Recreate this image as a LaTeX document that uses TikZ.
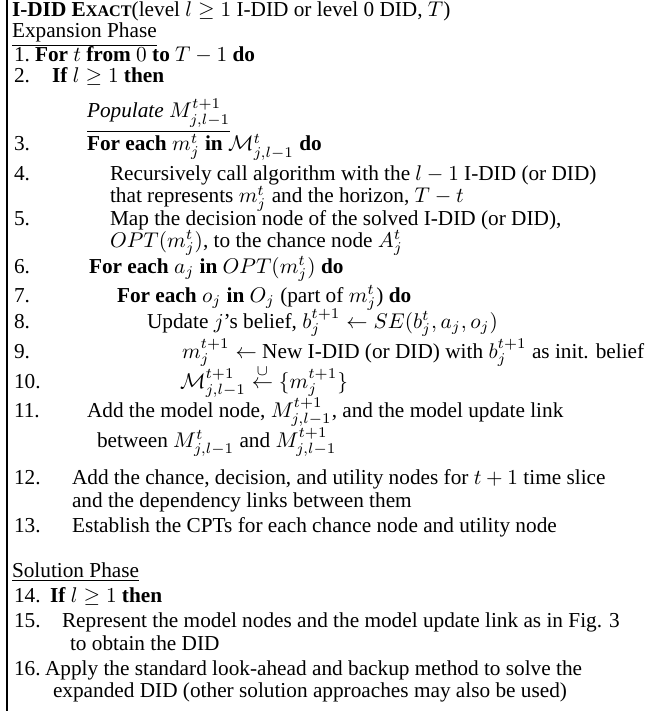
\documentclass[tikz,border=0pt]{standalone}
\usepackage[no-math]{fontspec}
\setmainfont{Liberation Serif}
\newcommand{\kw}[1]{\textbf{#1}}
\newcommand{\algsc}{\textbf{E{\fontsize{7.6}{9}\selectfont XACT}}}
\begin{document}
\begin{tikzpicture}[x=0.47pt,y=-0.47pt,
  ln/.style={anchor=base west, inner sep=0pt, outer sep=0pt, font=\fontsize{10}{12}\selectfont},
  num/.style={ln},
  rule/.style={line width=0.5pt}]
\useasboundingbox (0,0) rectangle (645,711);
\clip (0,0) rectangle (645,711);
% left frame rule
\draw[rule] (7,0) -- (7,711);
% heading
\node[ln] (title) at (12,17) {\kw{I-DID} \algsc(level $l \geq 1$ I-DID or level 0 DID, $T$)};
\node[ln] (exp) at (12,38) {\underline{Expansion Phase}};
% expansion phase
\node[num] (n1) at (14,62) {1.};
\node[ln] (t1) at (35,62) {\kw{For} $t$ \kw{from} $0$ \kw{to} $T-1$ \kw{do}};
\node[num] (n2) at (14,83) {2.};
\node[ln] (t2) at (52,83) {\kw{If} $l \geq 1$ \kw{then}};
\node[ln] (pop) at (87,118) {\textit{Populate} $M^{t+1}_{j,l-1}$};
\draw[rule] ([yshift=-1.8pt]pop.south west) -- ([yshift=-1.8pt]pop.south east);
\node[num] (n3) at (14,151) {3.};
\node[ln] (t3) at (87,151) {\kw{For each} $m_j^t$ \kw{in} $\mathcal{M}^t_{j,l-1}$ \kw{do}};
\node[num] (n4) at (14,181) {4.};
\node[ln] (t4) at (110,181) {Recursively call algorithm with the $l-1$ I-DID (or DID)};
\node[ln] (t4b) at (110,203) {that represents $m_j^t$ and the horizon, $T-t$};
\node[num] (n5) at (14,225) {5.};
\node[ln] (t5) at (110,225) {Map the decision node of the solved I-DID (or DID),};
\node[ln] (t5b) at (110,247) {$OPT(m_j^t)$, to the chance node $A_j^t$};
\node[num] (n6) at (14,273) {6.};
\node[ln] (t6) at (89,273) {\kw{For each} $a_j$ \kw{in} $OPT(m_j^t)$ \kw{do}};
\node[num] (n7) at (14,302) {7.};
\node[ln] (t7) at (117,302) {\kw{For each} $o_j$ \kw{in} $O_j$ (part of $m_j^t$) \kw{do}};
\node[num] (n8) at (14,328) {8.};
\node[ln] (t8) at (147,328) {Update $j$'s belief, $b_j^{t+1} \leftarrow SE(b_j^t, a_j, o_j)$};
\node[num] (n9) at (14,358) {9.};
\node[ln] (t9) at (182,358) {$m_j^{t+1} \leftarrow$ New I-DID (or DID) with $b_j^{t+1}$ as init. belief};
\node[num] (n10) at (14,388) {10.};
\node[ln] (t10) at (180,388) {$\mathcal{M}^{t+1}_{j,l-1} \stackrel{\cup}{\leftarrow} \{m_j^{t+1}\}$};
\node[num] (n11) at (14,417) {11.};
\node[ln] (t11) at (87,417) {Add the model node, $M^{t+1}_{j,l-1}$, and the model update link};
\node[ln] (t11b) at (97,447) {between $M^t_{j,l-1}$ and $M^{t+1}_{j,l-1}$};
\node[num] (n12) at (14,484) {12.};
\node[ln] (t12) at (72,484) {Add the chance, decision, and utility nodes for $t+1$ time slice};
\node[ln] (t12b) at (72,507) {and the dependency links between them};
\node[num] (n13) at (14,532) {13.};
\node[ln] (t13) at (72,532) {Establish the CPTs for each chance node and utility node};
% solution phase
\node[ln] (sol) at (12,577) {\underline{Solution Phase}};
\node[num] (n14) at (14,602) {14.};
\node[ln] (t14) at (50,602) {\kw{If} $l \geq 1$ \kw{then}};
\node[num] (n15) at (14,627) {15.};
\node[ln] (t15) at (62,627) {Represent the model nodes and the model update link as in Fig. 3};
\node[ln] (t15b) at (70,650) {to obtain the DID};
\node[num] (n16) at (14,675) {16.};
\node[ln] (t16) at (45,675) {Apply the standard look-ahead and backup method to solve the};
\node[ln] (t16b) at (53,697) {expanded DID (other solution approaches may also be used)};
\end{tikzpicture}
\end{document}
